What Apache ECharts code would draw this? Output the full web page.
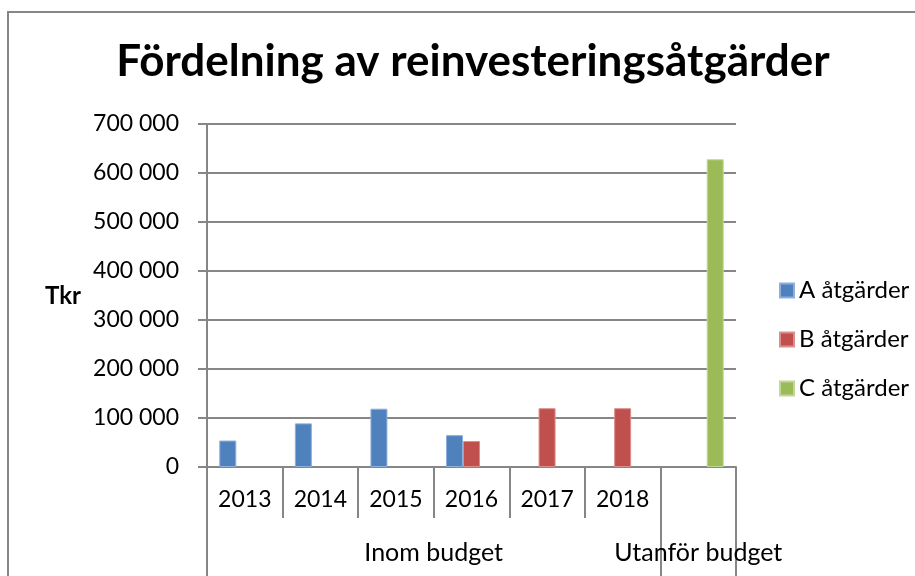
<!DOCTYPE html>
<html>
<head>
<meta charset="utf-8">
<script src="https://cdn.jsdelivr.net/npm/echarts@6/dist/echarts.min.js"></script>
<style>html,body{margin:0;padding:0;background:#fff}#c{width:915px;height:576px}</style>
</head>
<body>
<div id="c"></div>
<script>
var titleText = 'Fördelning av reinvesteringsåtgärder';
var yAxisName = 'Tkr';
var categories = ['2013', '2014', '2015', '2016', '2017', '2018', ''];
var groupNames = ['Inom budget', 'Utanför budget'];
var groupSizes = [6, 1];
var seriesNames = ['A åtgärder', 'B åtgärder', 'C åtgärder'];
var seriesA = [54000, 89000, 119000, 65000, null, null, null];
var seriesB = [null, null, null, 53000, 120000, 120000, null];
var seriesC = [null, null, null, null, null, null, 628000];
var yTicks = [0, 100000, 200000, 300000, 400000, 500000, 600000, 700000];

var colors = ['#4F81BD', '#C0504D', '#9BBB59'];
var borders = ['#8EAEDB', '#DC8E8C', '#BFD896'];
var gray = '#868686';
var font = 'Lato, "Open Sans", sans-serif';

// group boundaries and centers
var bounds = [0], centers = [], acc = 0;
groupSizes.forEach(function (s) { centers.push(acc + s / 2); acc += s; bounds.push(acc); });

function fmt(v) { return String(v).replace(/\B(?=(\d{3})+(?!\d))/g, ' '); }

var chart = echarts.init(document.getElementById('c'));
var data = [seriesA, seriesB, seriesC];
chart.setOption({
  animation: false,
  backgroundColor: '#fff',
  title: {
    text: titleText, left: 468, top: 35, textAlign: 'center',
    textStyle: { fontFamily: font, fontWeight: 'bold', fontSize: 44, color: '#000' }
  },
  graphic: [{
    type: 'rect', shape: { x: 8, y: 12, width: 1000, height: 1000 },
    style: { fill: null, stroke: gray, lineWidth: 2 }, silent: true
  }, {
    type: 'text', left: 45, top: 284,
    style: { text: yAxisName, font: 'bold 24px ' + font, fill: '#000' }
  }],
  legend: {
    orient: 'vertical', left: 774, top: 272, icon: 'rect',
    itemWidth: 14, itemHeight: 14, itemGap: 22,
    textStyle: { fontFamily: font, fontSize: 24, color: '#000', lineHeight: 27 },
    data: seriesNames
  },
  grid: { left: 207, right: 179, top: 124, bottom: 109, containLabel: false },
  xAxis: [{
    type: 'category', data: categories, position: 'bottom',
    axisLine: { show: true, lineStyle: { color: gray, width: 2 } },
    axisTick: { show: true, interval: 0, length: 51, lineStyle: { color: gray, width: 2 } },
    axisLabel: { interval: 0, margin: 21, fontFamily: font, fontSize: 23, color: '#000' },
    splitLine: { show: false }
  }, {
    type: 'value', min: bounds[0], max: bounds[bounds.length - 1], position: 'bottom',
    axisLine: { show: false },
    axisTick: { show: true, customValues: bounds, length: 109, lineStyle: { color: gray, width: 2 } },
    axisLabel: {
      customValues: centers, margin: 73, fontFamily: font, fontSize: 25, color: '#000',
      formatter: function (v) { var i = centers.indexOf(v); return i >= 0 ? groupNames[i] : ''; }
    },
    splitLine: { show: false }
  }],
  yAxis: {
    type: 'value', min: yTicks[0], max: yTicks[yTicks.length - 1], interval: yTicks[1] - yTicks[0],
    axisLine: { show: true, lineStyle: { color: gray, width: 2 } },
    axisTick: { show: true, length: 9, lineStyle: { color: gray, width: 2 } },
    axisLabel: { margin: 28, fontFamily: font, fontSize: 23, color: '#000', formatter: fmt },
    splitLine: { show: true, lineStyle: { color: gray, width: 2 } }
  },
  series: seriesNames.map(function (n, i) {
    return {
      name: n, type: 'bar', xAxisIndex: 0, data: data[i],
      barWidth: 17, barGap: '0%',
      itemStyle: { color: colors[i], borderColor: borders[i], borderWidth: 1 }
    };
  })
});
</script>
</body>
</html>
